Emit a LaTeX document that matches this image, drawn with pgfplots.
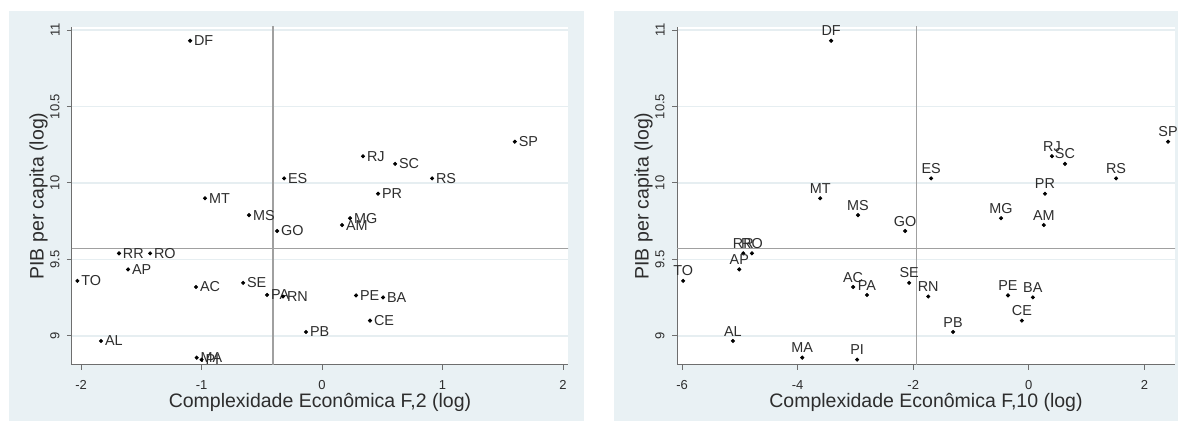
\documentclass[border=0pt]{standalone}
\usepackage{fontspec}
\setmainfont{Liberation Sans}
\usepackage{pgfplots}
\usepackage{pgfplotstable}
\pgfplotsset{compat=1.18}

\definecolor{bgc}{RGB}{233,241,244}
\definecolor{gridc}{RGB}{230,238,241}
\definecolor{refc}{RGB}{160,160,160}
\definecolor{axc}{RGB}{110,110,110}
\definecolor{txt}{RGB}{45,45,45}

% F,2
\pgfplotstableread{
x y lab
-1.095 10.93 DF
1.60 10.27 SP
0.34 10.175 RJ
0.606 10.125 SC
0.913 10.03 RS
0.465 9.93 PR
-0.315 10.03 ES
-0.971 9.90 MT
-0.606 9.79 MS
-0.373 9.686 GO
0.232 9.77 MG
0.166 9.725 AM
-1.685 9.54 RR
-1.427 9.54 RO
-1.61 9.435 AP
-2.03 9.36 TO
-1.046 9.32 AC
-0.655 9.347 SE
-0.456 9.268 PA
-0.324 9.258 RN
0.282 9.265 PE
0.506 9.252 BA
0.398 9.10 CE
-0.133 9.026 PB
-1.834 8.967 AL
-1.04 8.858 MA
-1.00 8.845 PI
}\leftdata

% F,10
\pgfplotstableread{
x y lab
-3.42 10.93 DF
-3.61 9.90 MT
-2.955 9.79 MS
-4.94 9.54 RR
-4.79 9.54 RO
-5.01 9.435 AP
-5.98 9.36 TO
-3.04 9.32 AC
-2.80 9.268 PA
-5.12 8.967 AL
-3.92 8.858 MA
-2.97 8.845 PI
-1.69 10.03 ES
0.40 10.175 RJ
0.626 10.125 SC
1.51 10.03 RS
2.41 10.27 SP
0.28 9.93 PR
-0.48 9.77 MG
0.26 9.725 AM
-2.14 9.686 GO
-2.07 9.347 SE
-1.74 9.258 RN
-0.36 9.265 PE
0.07 9.252 BA
-0.12 9.10 CE
-1.31 9.026 PB
}\rightdata

\pgfplotsset{stata/.style={
  scale only axis, height=169pt,
  axis x line*=bottom, axis y line*=left,
  axis line style={axc, line width=0.5pt},
  tick style={axc, line width=0.5pt},
  tick align=outside, major tick length=2.5pt,
  ymin=8.81, ymax=11.02, ytick={9,9.5,10,10.5,11},
  ymajorgrids, major grid style={gridc, line width=0.6pt},
  axis background/.style={fill=white},
  tick label style={font=\fontsize{6.5}{7}\selectfont, text=txt},
  /pgf/number format/assume math mode=true,
  yticklabel style={rotate=90, anchor=south, inner sep=0pt},
  yticklabel shift=3.5pt,
  xticklabel style={anchor=north, inner sep=0pt},
  xticklabel shift=5pt,
  label style={font=\fontsize{9.75}{11}\selectfont, text=txt},
  ylabel={PIB per capita (log)},
  ylabel style={at={([xshift=-12pt]axis description cs:0,0.5)}, anchor=south, inner sep=0pt},
  xlabel style={at={([yshift=-14pt]axis description cs:0.5,0)}, anchor=north, inner sep=0pt},
  clip mode=individual,
}}

\begin{document}
\begin{tikzpicture}
\useasboundingbox (0,0) rectangle (589pt,210.5pt);
\fill[white] (0,0) rectangle (589pt,210.5pt);
\fill[bgc] (4.5pt,0) rectangle (292pt,205pt);
\fill[bgc] (307pt,0) rectangle (600pt,205pt);

\begin{axis}[stata, width=248pt, at={(36pt,28pt)}, anchor=south west,
  xmin=-2.075, xmax=2.041, xtick={-2,-1,0,1,2},
  xlabel={Complexidade Econômica F,2 (log)}]
\addplot[refc, line width=0.6pt, no marks] coordinates {(-0.407,8.7) (-0.407,11.1)};
\addplot[refc, line width=0.6pt, no marks] coordinates {(-2.2,9.572) (2.2,9.572)};
\addplot[only marks, mark=*, mark size=0.8pt, black,
  nodes near coords, point meta=explicit symbolic,
  nodes near coords style={anchor=west, inner sep=0pt, xshift=1.8pt,
    font=\fontsize{7.2}{8}\selectfont, text=txt}]
  table[x=x, y=y, meta=lab] {\leftdata};
\end{axis}

\begin{axis}[stata, width=249pt, at={(338.5pt,28pt)}, anchor=south west,
  xmin=-6.087, xmax=2.53, xtick={-6,-4,-2,0,2},
  xlabel={Complexidade Econômica F,10 (log)}]
\addplot[refc, line width=0.6pt, no marks] coordinates {(-1.95,8.7) (-1.95,11.1)};
\addplot[refc, line width=0.6pt, no marks] coordinates {(-6.5,9.572) (3,9.572)};
\addplot[only marks, mark=*, mark size=0.8pt, black,
  nodes near coords, point meta=explicit symbolic,
  nodes near coords style={anchor=south, inner sep=0pt, yshift=2.2pt,
    font=\fontsize{7.2}{8}\selectfont, text=txt}]
  table[x=x, y=y, meta=lab] {\rightdata};
\end{axis}
\end{tikzpicture}
\end{document}
